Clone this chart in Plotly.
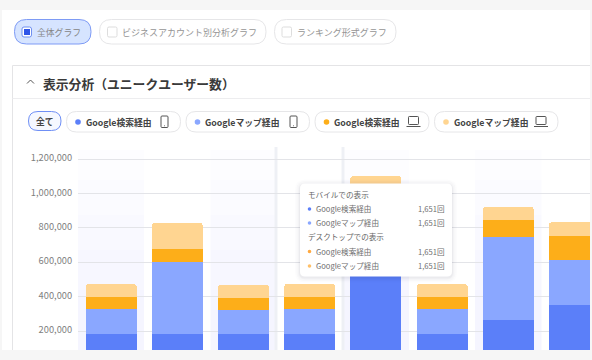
import plotly.graph_objects as go

W, H = 592, 360
FONT = "Noto Sans CJK JP"

categories = ["c1", "c2", "c3", "c4", "c5", "c6", "c7", "c8"]
google_search_mobile = [184000, 184000, 183000, 184000, 560000, 184000, 264000, 349000]
google_maps_mobile = [142000, 419000, 139000, 142000, 260000, 142000, 483000, 264000]
google_search_desktop = [72000, 74000, 70000, 72000, 90000, 72000, 98000, 139000]
google_maps_desktop = [75000, 151000, 75000, 75000, 191000, 75000, 76000, 80000]
tick_values = [200000, 400000, 600000, 800000, 1000000, 1200000]
tick_labels = ["200,000", "400,000", "600,000", "800,000", "1,000,000", "1,200,000"]

C_DARK, C_LIGHT, C_ORANGE, C_PALE = "#5B7FF9", "#8AA7FF", "#FDAE19", "#FFD591"
series = [
    ("Google検索経由 モバイル", google_search_mobile, C_DARK),
    ("Googleマップ経由 モバイル", google_maps_mobile, C_LIGHT),
    ("Google検索経由 デスクトップ", google_search_desktop, C_ORANGE),
    ("Googleマップ経由 デスクトップ", google_maps_desktop, C_PALE),
]

fig = go.Figure()
for name, vals, col in series:
    fig.add_bar(x=categories, y=vals, name=name, marker=dict(color=col, line=dict(width=0)))


def X(p):
    return p / W


def Y(p):
    return 1 - p / H


shapes, notes = [], []


def rect(x0, y0, x1, y1, fill="rgba(0,0,0,0)", line=None, lw=1, layer="above", opacity=1):
    shapes.append(dict(type="rect", xref="paper", yref="paper", x0=X(x0), x1=X(x1), y0=Y(y0), y1=Y(y1),
                       fillcolor=fill, line=dict(color=line or "rgba(0,0,0,0)", width=lw if line else 0),
                       layer=layer, opacity=opacity))


def rrect(x0, y0, x1, y1, r, fill="rgba(0,0,0,0)", line=None, lw=1, layer="above"):
    path = (f"M{X(x0+r)},{Y(y0)} L{X(x1-r)},{Y(y0)} Q{X(x1)},{Y(y0)} {X(x1)},{Y(y0+r)} "
            f"L{X(x1)},{Y(y1-r)} Q{X(x1)},{Y(y1)} {X(x1-r)},{Y(y1)} "
            f"L{X(x0+r)},{Y(y1)} Q{X(x0)},{Y(y1)} {X(x0)},{Y(y1-r)} "
            f"L{X(x0)},{Y(y0+r)} Q{X(x0)},{Y(y0)} {X(x0+r)},{Y(y0)} Z")
    shapes.append(dict(type="path", xref="paper", yref="paper", path=path, fillcolor=fill,
                       line=dict(color=line or "rgba(0,0,0,0)", width=lw if line else 0), layer=layer))


def dot(cx, cy, r, fill):
    shapes.append(dict(type="circle", xref="paper", yref="paper", x0=X(cx - r), x1=X(cx + r),
                       y0=Y(cy - r), y1=Y(cy + r), fillcolor=fill, line=dict(width=0), layer="above"))


def text(x, y, s, size=8.8, color="#888888", bold=False, anchor="left"):
    notes.append(dict(xref="paper", yref="paper", x=X(x), y=Y(y), text=f"<b>{s}</b>" if bold else s,
                      showarrow=False, xanchor=anchor, yanchor="middle", align=anchor,
                      borderpad=0, borderwidth=0, font=dict(family=FONT, size=size, color=color)))


def polyline(pts, color, lw=1):
    path = "M" + " L".join(f"{X(a)},{Y(b)}" for a, b in pts)
    shapes.append(dict(type="path", xref="paper", yref="paper", path=path,
                       line=dict(color=color, width=lw), layer="above"))


# page panel and card
rect(2, 10, 590, 350, fill="#FFFFFF", layer="below")
rect(12.5, 65.5, 600, 400, fill="#FFFFFF", line="#E4E4E6", layer="below")
rect(12.5, 98, 600, 99, fill="#EDEDEF", layer="below")

# chart column bands, fading towards the top, and separators
for i in (0, 2, 4, 6):
    for top, alpha in ((150, 0.012), (180, 0.01), (215, 0.01), (250, 0.01), (290, 0.01)):
        shapes.append(dict(type="rect", xref="x", yref="paper", x0=i - 0.5, x1=i + 0.5, y0=Y(350), y1=Y(top),
                           fillcolor=f"rgba(70,110,250,{alpha})", line=dict(width=0), layer="below"))
for px in (276, 343):
    rect(px - 1.5, 147, px + 1.5, 350, fill="#EEF0F5", layer="below")

# filter chips
rrect(14.5, 19.5, 91, 44, 12, fill="#D6E4FF", line="#7E9BF5")
rrect(99.5, 19.5, 266, 44, 12, fill="#FFFFFF", line="#E6E6E8")
rrect(274.5, 19.5, 396, 44, 12, fill="#FFFFFF", line="#E6E6E8")
rrect(22, 27, 31.5, 37, 2, fill="#FFFFFF", line="#6F8FF0")
rect(24, 29, 30, 35, fill="#2F55E8")
rrect(107.5, 27, 117, 37, 1.5, fill="#FFFFFF", line="#DDDDDD")
rrect(282, 27, 291.5, 37, 1.5, fill="#FFFFFF", line="#DDDDDD")
text(37, 32, "全体グラフ", color="#858585")
text(122, 32, "ビジネスアカウント別分析グラフ", size=9, color="#959595")
text(297, 32, "ランキング形式グラフ", size=9, color="#959595")

# card header
polyline([(27, 83.5), (30.5, 80), (34, 83.5)], "#555555", 1)
text(43, 83, "表示分析（ユニークユーザー数）", size=12.8, color="#3A3A3A", bold=True)

# legend chips
rrect(28.5, 111.5, 61, 130.5, 9.5, fill="#F5F8FF", line="#6F8FF5")
text(36, 121, "全て", color="#444444", bold=True)
legend_chips = [
    (66.5, 180.5, 78, 85.5, "Google検索経由", C_DARK),
    (186, 309.5, 197.5, 205, "Googleマップ経由", C_LIGHT),
    (315, 429, 326.5, 334, "Google検索経由", C_ORANGE),
    (434.5, 558, 446, 453.5, "Googleマップ経由", C_PALE),
]
for x0, x1, dx, tx, label, col in legend_chips:
    rrect(x0, 111.5, x1, 132, 10, fill="#FFFFFF", line="#E6E6E8")
    dot(dx, 122, 2.8, col)
    text(tx, 122, label, color="#444444", bold=True)

# phone icons
for x0 in (161, 290):
    rrect(x0, 116, x0 + 7, 127.5, 1, line="#555555")
    dot(x0 + 3.5, 125.7, 0.5, "#555555")
# laptop icons
for x0 in (407.5, 535):
    rrect(x0 + 1, 116.5, x0 + 11, 124.5, 0.8, line="#555555")
    polyline([(x0 - 1, 126.5), (x0 + 13, 126.5)], "#555555", 1)

# tooltip
for grow, alpha in ((5, 0.012), (3.5, 0.018), (2, 0.025), (1, 0.035)):
    rrect(300 - grow, 183.5 - grow + 1, 452 + grow, 276.5 + grow + 1, 5 + grow, fill=f"rgba(30,40,70,{alpha})")
rrect(300, 183.5, 452, 276.5, 5, fill="#FFFFFF")

tooltip_headers = [("モバイルでの表示", 194.5), ("デスクトップでの表示", 236.5)]
tooltip_rows = [
    ("Google検索経由", "1,651回", 208.5, C_DARK),
    ("Googleマップ経由", "1,651回", 222.5, C_LIGHT),
    ("Google検索経由", "1,651回", 251, "#FFA940"),
    ("Googleマップ経由", "1,651回", 265.5, "#FFC069"),
]
for label, y in tooltip_headers:
    text(308, y, label, size=7.6, color="#666666")
for label, val, y, col in tooltip_rows:
    dot(309.5, y + 0.5, 1.8, col)
    text(316, y, label, size=7.6, color="#6E6E6E")
    text(444.5, y, val, size=7.6, color="#6E6E6E", anchor="right")

# page edges over the chart
rect(0, 350, W, H, fill="#F6F6F6")
rect(590, 0, W, H, fill="#F6F6F6")

unit_per_px = 200000 / 34.4
fig.update_layout(
    width=W, height=H, margin=dict(l=0, r=0, t=0, b=0), autosize=False,
    paper_bgcolor="#F6F6F6", plot_bgcolor="rgba(0,0,0,0)",
    barmode="stack", bargap=0.23, barcornerradius=3, showlegend=False,
    shapes=shapes, annotations=notes, hovermode=False,
    font=dict(family=FONT),
    xaxis=dict(domain=[78 / W, 1], range=[-0.5, (W - 78) / 66.2 - 0.5], showticklabels=False,
               showgrid=False, zeroline=False, showline=False, ticks=""),
    yaxis=dict(domain=[0, 1 - 147 / H], range=[(365.4 - H) * unit_per_px, (365.4 - 147) * unit_per_px],
               tickmode="array", tickvals=tick_values, ticktext=tick_labels,
               tickfont=dict(family=FONT, size=9.3, color="#808080"), ticks="outside", ticklen=3,
               tickcolor="rgba(0,0,0,0)", ticklabelshift=-1, showgrid=True, gridcolor="#E3E4E8", gridwidth=1,
               zeroline=False, showline=False),
)
fig.write_html("out.html", config=dict(displayModeBar=False),
               post_script="document.body.style.margin='0';document.documentElement.style.overflow='hidden';")
